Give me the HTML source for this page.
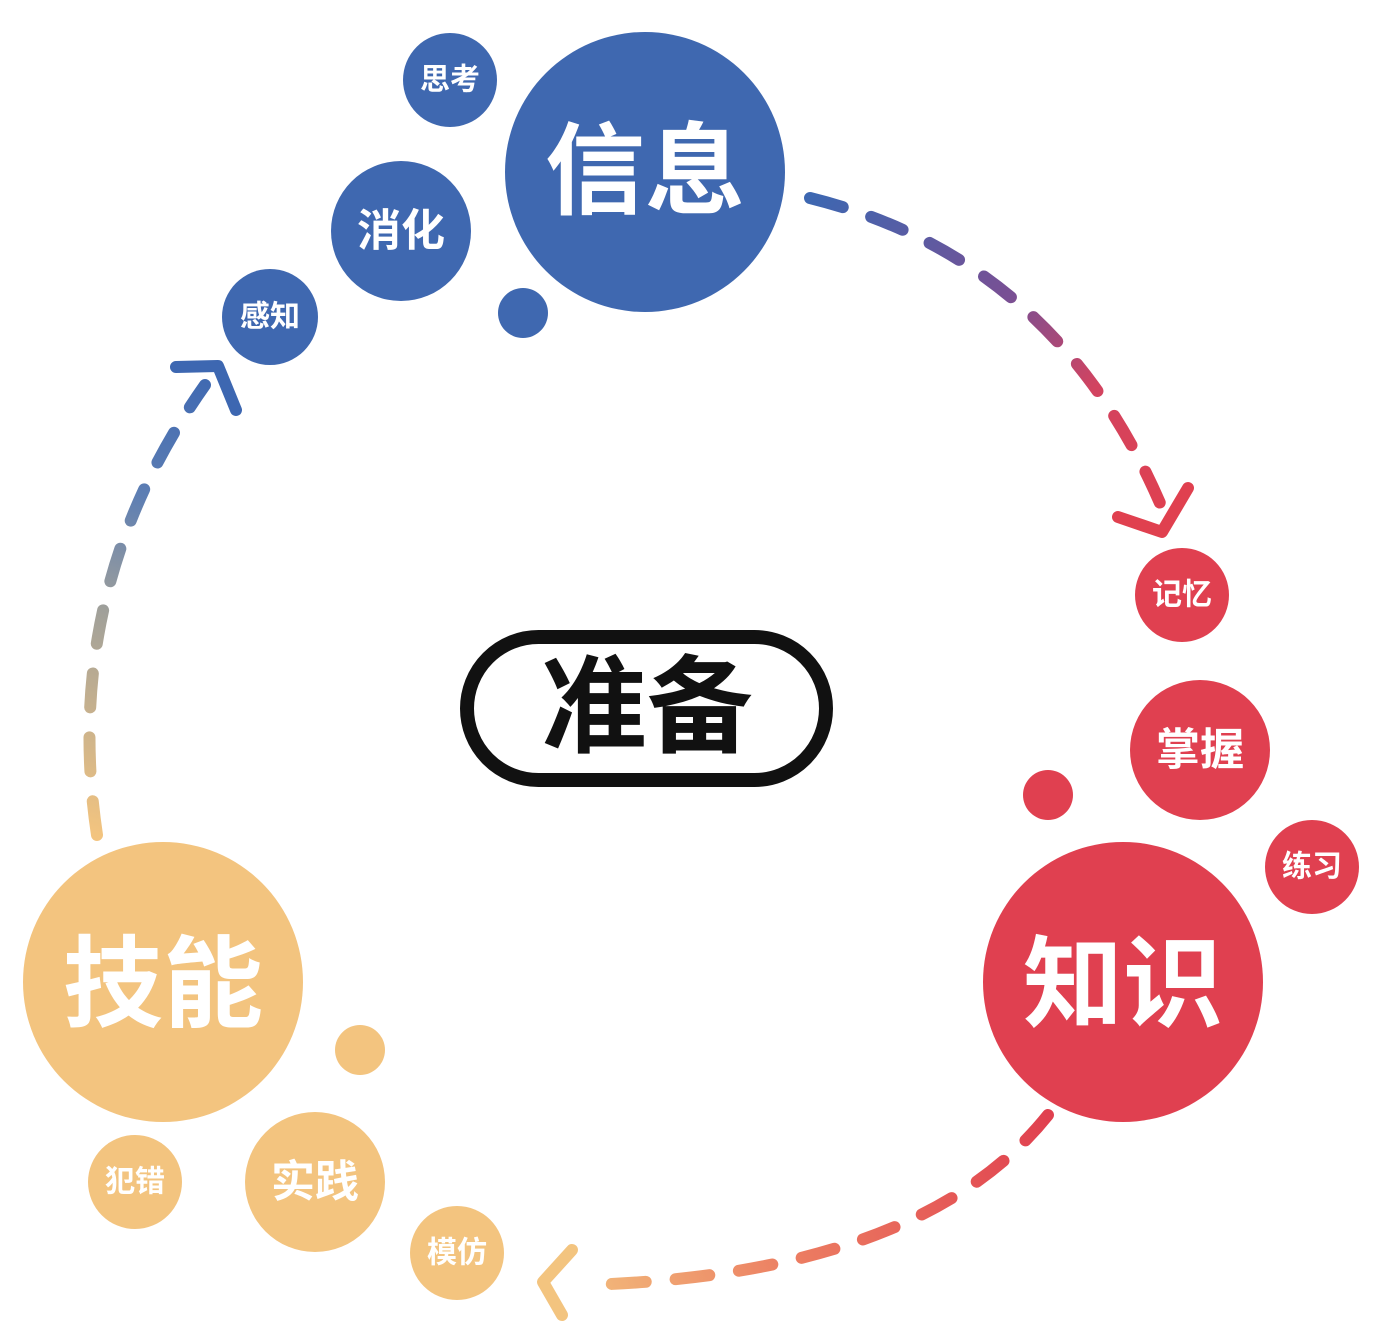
<!DOCTYPE html>
<html><head><meta charset="utf-8"><style>
html,body{margin:0;padding:0;background:#fff;width:1376px;height:1341px;overflow:hidden}
svg{display:block}
text{font-family:"Liberation Sans","Noto Sans CJK SC",sans-serif;font-weight:bold;text-anchor:middle;dominant-baseline:central}
</style></head><body>
<svg width="1376" height="1341" viewBox="0 0 1376 1341" xmlns="http://www.w3.org/2000/svg">
<defs>
<linearGradient id="g1" gradientUnits="userSpaceOnUse" x1="810" y1="198" x2="1165" y2="525">
<stop offset="0" stop-color="#3d67b1"/><stop offset="0.45" stop-color="#7a4f93"/><stop offset="0.7" stop-color="#d24360"/><stop offset="1" stop-color="#e0404f"/></linearGradient>
<linearGradient id="g2" gradientUnits="userSpaceOnUse" x1="1048" y1="1115" x2="545" y2="1285">
<stop offset="0" stop-color="#e0404f"/><stop offset="0.55" stop-color="#ec7e62"/><stop offset="1" stop-color="#f3c47f"/></linearGradient>
<linearGradient id="g3" gradientUnits="userSpaceOnUse" x1="95" y1="835" x2="230" y2="370">
<stop offset="0" stop-color="#f3c47f"/><stop offset="0.45" stop-color="#a0a09a"/><stop offset="0.7" stop-color="#5d7eb3"/><stop offset="1" stop-color="#3d67b1"/></linearGradient>
</defs>
<g fill="none" stroke-width="12" stroke-linecap="round" stroke-linejoin="round">
<path d="M810,198 Q1060,260 1165,515" stroke="url(#g1)" stroke-dasharray="34 30"/>
<polyline points="1118,517 1162,532 1188,488" stroke="#e0404f"/>
<path d="M1048,1115 Q920,1275 585,1285" stroke="url(#g2)" stroke-dasharray="34 30"/>
<polyline points="572,1250 543,1282 562,1315" stroke="#f3c47f"/>
<path d="M97,835 Q60,590 205,385" stroke="url(#g3)" stroke-dasharray="34 30"/>
<polyline points="176,367 218,366 236,410" stroke="#3d67b1"/>
</g>
<g fill="#3f68b0">
<circle cx="645" cy="172" r="140"/><circle cx="450" cy="80" r="47"/><circle cx="401" cy="231" r="70"/><circle cx="270" cy="317" r="48"/><circle cx="523" cy="313" r="25"/>
</g>
<g fill="#e04050">
<circle cx="1123" cy="982" r="140"/><circle cx="1182" cy="595" r="47"/><circle cx="1200" cy="750" r="70"/><circle cx="1312" cy="867" r="47"/><circle cx="1048" cy="795" r="25"/>
</g>
<g fill="#f3c47f">
<circle cx="163" cy="982" r="140"/><circle cx="135" cy="1182" r="47"/><circle cx="315" cy="1182" r="70"/><circle cx="457" cy="1253" r="47"/><circle cx="360" cy="1050" r="25"/>
</g>
<g fill="#fff">
<text x="645" y="172" font-size="100">信息</text>
<text x="450" y="80" font-size="30">思考</text>
<text x="401" y="231" font-size="44">消化</text>
<text x="270" y="317" font-size="30">感知</text>
<text x="1123" y="985" font-size="100">知识</text>
<text x="1182" y="595" font-size="30">记忆</text>
<text x="1200" y="750" font-size="44">掌握</text>
<text x="1312" y="867" font-size="30">练习</text>
<text x="163" y="985" font-size="100">技能</text>
<text x="135" y="1182" font-size="30">犯错</text>
<text x="315" y="1182" font-size="44">实践</text>
<text x="457" y="1253" font-size="30">模仿</text>
</g>
<rect x="467" y="637" width="359" height="143" rx="71.5" fill="none" stroke="#111" stroke-width="14"/>
<text x="647" y="708" font-size="106" fill="#111">准备</text>
</svg>
</body></html>
